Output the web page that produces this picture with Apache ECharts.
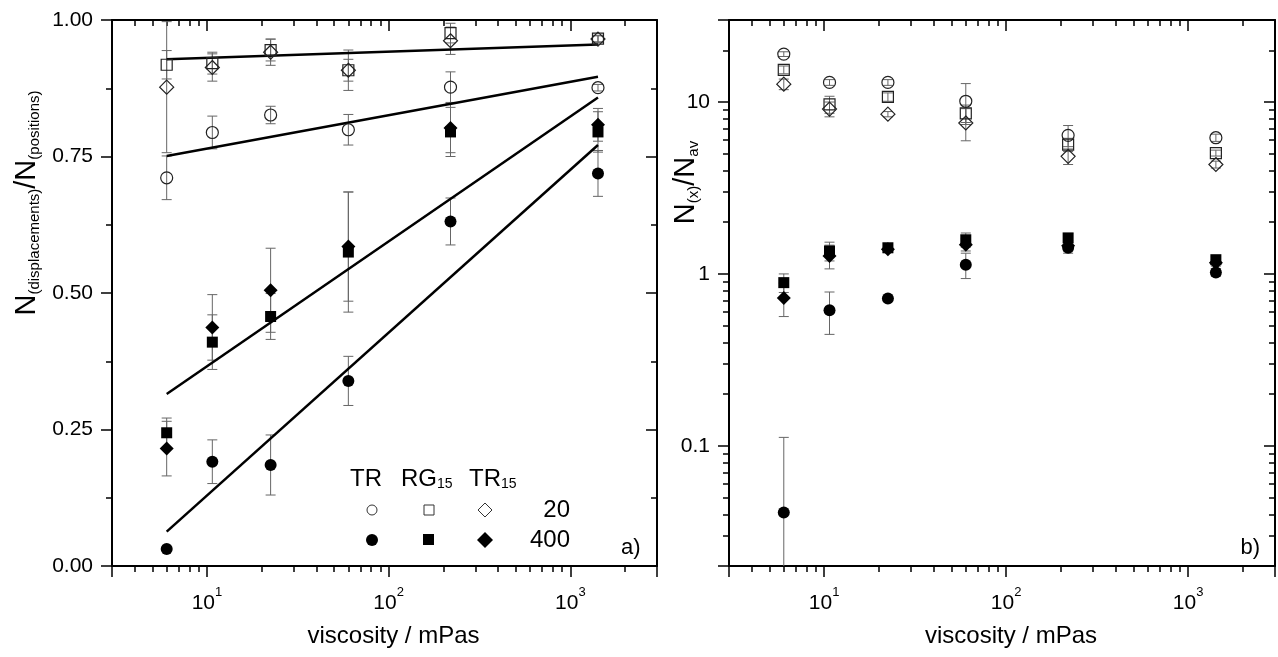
<!DOCTYPE html>
<html><head><meta charset="utf-8">
<script src="https://cdn.jsdelivr.net/npm/echarts@6/dist/echarts.min.js"></script>
<style>html,body{margin:0;padding:0;background:#fff}#c{width:1278px;height:657px}</style>
</head><body><div id="c"></div>
<script>
// ---- data ----
const viscosity = [6, 10.7, 22.4, 60, 219, 1420];

// panel a) N(displacements)/N(positions)
const aTR20 = [0.711, 0.794, 0.826, 0.799, 0.877, 0.876];
const aTR20Err = [0.04, 0.03, 0.016, 0.028, 0.028, 0.006];
const aRG20 = [0.918, 0.921, 0.945, 0.908, 0.976, 0.966];
const aRG20Err = [0.026, 0.02, 0.02, 0.02, 0.018, 0.006];
const aTR15_20 = [0.877, 0.913, 0.941, 0.908, 0.962, 0.965];
const aTR15_20Err = [0.12, 0.025, 0.024, 0.037, 0.025, 0.006];
const aTR400 = [0.031, 0.191, 0.185, 0.339, 0.631, 0.719];
const aTR400Err = [0, 0.04, 0.055, 0.045, 0.043, 0.042];
const aRG400 = [0.244, 0.41, 0.457, 0.575, 0.795, 0.795];
const aRG400Err = [0.027, 0.05, 0.042, 0.11, 0.045, 0.037];
const aTR15_400 = [0.215, 0.437, 0.505, 0.585, 0.802, 0.808];
const aTR15_400Err = [0.05, 0.06, 0.077, 0.1, 0.045, 0.03];

// linear fits (straight in log x), endpoints
const fitX = [6, 1420];
const fitOpen15 = [0.928, 0.955];
const fitTR20 = [0.751, 0.896];
const fitFilled15 = [0.315, 0.858];
const fitTR400 = [0.063, 0.771];

// panel b) N(x)/Nav
const bTR20 = [19.0, 13.0, 13.0, 10.1, 6.4, 6.2];
const bTR20Err = [0.6, 0.5, 0.5, 2.7, 0.9, 0.3];
const bRG20 = [15.4, 9.7, 10.7, 8.6, 5.65, 5.05];
const bRG20Err = [0.8, 1.1, 0.6, 1.0, 0.5, 0.2];
const bTR15_20 = [12.7, 9.1, 8.5, 7.55, 4.83, 4.33];
const bTR15_20Err = [0.9, 0.9, 0.3, 1.6, 0.5, 0.2];
const bTR400 = [0.041, 0.615, 0.72, 1.13, 1.42, 1.02];
const bTR400Err = [0.071, 0.17, 0.02, 0.19, 0.1, 0.05];
const bRG400 = [0.89, 1.36, 1.42, 1.58, 1.62, 1.21];
const bRG400Err = [0.11, 0.17, 0.08, 0.15, 0.1, 0.05];
const bTR15_400 = [0.725, 1.27, 1.39, 1.48, 1.46, 1.16];
const bTR15_400Err = [0.16, 0.2, 0.06, 0.12, 0.1, 0.05];

const xTickLabels = ['10{s|1}', '10{s|2}', '10{s|3}'];

// ---- helpers ----
const FONT = '"Liberation Sans", Arial, sans-serif';
const sizes = {circle: 12, rect: 11, diamond: 14};

function scatter(data, sym, filled, xi, yi) {
  return {
    type: 'scatter', xAxisIndex: xi, yAxisIndex: yi, symbol: sym, symbolSize: sizes[sym],
    data: viscosity.map((x, i) => [x, data[i]]),
    itemStyle: filled ? {color: '#000', opacity: 1}
                      : {color: 'rgba(255,255,255,0)', borderColor: '#222', borderWidth: 1.2, opacity: 1},
    z: 5, silent: true
  };
}
function errItem(params, api) {
  const x = api.value(0);
  const lo = api.coord([x, api.value(1)]);
  const hi = api.coord([x, api.value(2)]);
  const w = 5;
  const st = {stroke: '#666', lineWidth: 1};
  return {type: 'group', children: [
    {type: 'line', shape: {x1: lo[0], y1: lo[1], x2: hi[0], y2: hi[1]}, style: st},
    {type: 'line', shape: {x1: lo[0] - w, y1: lo[1], x2: lo[0] + w, y2: lo[1]}, style: st},
    {type: 'line', shape: {x1: hi[0] - w, y1: hi[1], x2: hi[0] + w, y2: hi[1]}, style: st}
  ]};
}
function errSeries(vals, errs, xi, yi, floor) {
  const data = [];
  viscosity.forEach((x, i) => {
    if (errs[i] > 0) data.push([x, Math.max(vals[i] - errs[i], floor), vals[i] + errs[i]]);
  });
  return {type: 'custom', xAxisIndex: xi, yAxisIndex: yi, renderItem: errItem, data,
          encode: {x: 0, y: [1, 2]}, clip: true, z: 2, silent: true};
}
function fit(vals, xi, yi) {
  return {type: 'line', xAxisIndex: xi, yAxisIndex: yi, data: fitX.map((x, i) => [x, vals[i]]),
          symbol: 'none', lineStyle: {color: '#000', width: 2.5}, z: 3, silent: true, animation: false};
}
function pow10Label(v) {
  const l = Math.log10(v), e = Math.round(l);
  if (Math.abs(l - e) > 1e-6 || e < 1 || e > 3) return '';
  return '{b|' + xTickLabels[e - 1].replace('{s|', '}{s|');
}
const lineStyle = {color: '#000', width: 2};
const tickStyle = {color: '#000', width: 1.5};

function logX(grid, pos) {
  const bottom = pos === 'bottom';
  return {
    type: 'log', logBase: 10, gridIndex: grid, position: pos, min: 3, max: 3000,
    axisLine: {show: true, onZero: false, lineStyle},
    axisTick: {show: true, inside: !bottom, length: 11, lineStyle: tickStyle},
    minorTick: {show: true, splitNumber: 9, length: 6, lineStyle: tickStyle},
    splitLine: {show: false}, minorSplitLine: {show: false},
    axisLabel: {show: bottom, margin: 20, color: '#000', formatter: pow10Label,
      rich: {b: {fontFamily: FONT, fontSize: 21, color: '#000', lineHeight: 28, verticalAlign: 'bottom'},
             s: {fontFamily: FONT, fontSize: 13, color: '#000', lineHeight: 13, verticalAlign: 'top'}}},
    name: bottom ? 'viscosity / mPas' : '', nameLocation: 'middle', nameGap: 58, nameMoveOverlap: false,
    nameTextStyle: {fontFamily: FONT, fontSize: 24, color: '#000', padding: [0, 0, 0, 18]}
  };
}

const titleRich = {
  n: {fontFamily: FONT, fontSize: 29, color: '#000', lineHeight: 30, verticalAlign: 'top'},
  s: {fontFamily: FONT, fontSize: 15, color: '#000', lineHeight: 15, verticalAlign: 'bottom', padding: [26, 0, 0, 0]}
};
const legendRich = {
  t: {fontFamily: FONT, fontSize: 24, lineHeight: 24, verticalAlign: 'top', fill: '#000'},
  s: {fontFamily: FONT, fontSize: 14, lineHeight: 14, verticalAlign: 'bottom', padding: [21, 0, 0, 0], fill: '#000'}
};

const option = {
  animation: false,
  backgroundColor: '#fff',
  textStyle: {fontFamily: FONT},
  grid: [
    {left: 111, right: 621, top: 20, bottom: 91, containLabel: false},
    {left: 729, right: 3, top: 20, bottom: 91, containLabel: false}
  ],
  xAxis: [logX(0, 'bottom'), logX(0, 'top'), logX(1, 'bottom'), logX(1, 'top')],
  yAxis: [
    {type: 'value', gridIndex: 0, position: 'left', min: 0, max: 1, interval: 0.25,
     axisLine: {show: true, onZero: false, lineStyle},
     axisTick: {show: true, inside: false, length: 11, lineStyle: tickStyle},
     minorTick: {show: true, splitNumber: 2, length: 6, lineStyle: tickStyle},
     splitLine: {show: false},
     axisLabel: {margin: 19, color: '#000', fontFamily: FONT, fontSize: 21, formatter: v => v.toFixed(2)},
     name: '{n|N}{s|(displacements)}{n|/N}{s|(positions)}', nameLocation: 'middle', nameRotate: 90, nameGap: 70,
     nameMoveOverlap: false,
     nameTextStyle: {rich: titleRich, padding: [0, 0, 0, 180]}},
    {type: 'value', gridIndex: 0, position: 'right', min: 0, max: 1, interval: 0.25,
     axisLine: {show: true, onZero: false, lineStyle},
     axisTick: {show: true, inside: true, length: 11, lineStyle: tickStyle},
     minorTick: {show: true, splitNumber: 2, length: 6, lineStyle: tickStyle},
     splitLine: {show: false}, axisLabel: {show: false}},
    {type: 'log', logBase: 10, gridIndex: 1, position: 'left', min: 0.02, max: 30,
     axisLine: {show: true, onZero: false, lineStyle},
     axisTick: {show: true, inside: false, length: 11, lineStyle: tickStyle},
     minorTick: {show: true, splitNumber: 9, length: 6, lineStyle: tickStyle},
     splitLine: {show: false}, minorSplitLine: {show: false},
     axisLabel: {margin: 19, color: '#000', fontFamily: FONT, fontSize: 21,
       formatter: v => { const l = Math.log10(v), e = Math.round(l); return Math.abs(l - e) < 1e-6 ? String(+v.toPrecision(3)) : ''; }},
     name: '{n|N}{s|(x)}{n|/N}{s|av}', nameLocation: 'middle', nameRotate: 90, nameGap: 28,
     nameMoveOverlap: false,
     nameTextStyle: {rich: titleRich, padding: [0, 0, 0, 221]}},
    {type: 'log', logBase: 10, gridIndex: 1, position: 'right', min: 0.02, max: 30,
     axisLine: {show: true, onZero: false, lineStyle},
     axisTick: {show: true, inside: true, length: 11, lineStyle: tickStyle},
     minorTick: {show: true, splitNumber: 9, length: 6, lineStyle: tickStyle},
     splitLine: {show: false}, minorSplitLine: {show: false}, axisLabel: {show: false}}
  ],
  series: [
    // panel a error bars
    errSeries(aTR20, aTR20Err, 0, 0, -1),
    errSeries(aRG20, aRG20Err, 0, 0, -1),
    errSeries(aTR15_20, aTR15_20Err, 0, 0, -1),
    errSeries(aTR400, aTR400Err, 0, 0, -1),
    errSeries(aRG400, aRG400Err, 0, 0, -1),
    errSeries(aTR15_400, aTR15_400Err, 0, 0, -1),
    // fits
    fit(fitOpen15, 0, 0), fit(fitTR20, 0, 0), fit(fitFilled15, 0, 0), fit(fitTR400, 0, 0),
    // markers a
    scatter(aTR20, 'circle', false, 0, 0),
    scatter(aRG20, 'rect', false, 0, 0),
    scatter(aTR15_20, 'diamond', false, 0, 0),
    scatter(aTR400, 'circle', true, 0, 0),
    scatter(aRG400, 'rect', true, 0, 0),
    scatter(aTR15_400, 'diamond', true, 0, 0),
    // panel b error bars
    errSeries(bTR20, bTR20Err, 2, 2, 0.001),
    errSeries(bRG20, bRG20Err, 2, 2, 0.001),
    errSeries(bTR15_20, bTR15_20Err, 2, 2, 0.001),
    errSeries(bTR400, bTR400Err, 2, 2, 0.001),
    errSeries(bRG400, bRG400Err, 2, 2, 0.001),
    errSeries(bTR15_400, bTR15_400Err, 2, 2, 0.001),
    // markers b
    scatter(bTR20, 'circle', false, 2, 2),
    scatter(bRG20, 'rect', false, 2, 2),
    scatter(bTR15_20, 'diamond', false, 2, 2),
    scatter(bTR400, 'circle', true, 2, 2),
    scatter(bRG400, 'rect', true, 2, 2),
    scatter(bTR15_400, 'diamond', true, 2, 2)
  ],
  graphic: [
    {type: 'text', x: 350, y: 479, style: {text: 'TR', fontFamily: FONT, fontSize: 24, fill: '#000', textVerticalAlign: 'middle'}},
    {type: 'text', x: 401, y: 479, style: {text: '{t|RG}{s|15}', fill: '#000', textVerticalAlign: 'middle', rich: legendRich}},
    {type: 'text', x: 469, y: 479, style: {text: '{t|TR}{s|15}', fill: '#000', textVerticalAlign: 'middle', rich: legendRich}},
    {type: 'circle', shape: {cx: 372, cy: 510, r: 5}, style: {fill: 'none', stroke: '#333', lineWidth: 1}},
    {type: 'rect', shape: {x: 424, y: 505, width: 10, height: 10}, style: {fill: 'none', stroke: '#333', lineWidth: 1}},
    {type: 'polygon', shape: {points: [[485, 503], [492, 510], [485, 517], [478, 510]]}, style: {fill: 'none', stroke: '#333', lineWidth: 1}},
    {type: 'text', x: 570, y: 510, style: {text: '20', fontFamily: FONT, fontSize: 24, fill: '#000', textAlign: 'right', textVerticalAlign: 'middle'}},
    {type: 'circle', shape: {cx: 372, cy: 540, r: 6}, style: {fill: '#000'}},
    {type: 'rect', shape: {x: 423, y: 534, width: 11, height: 11}, style: {fill: '#000'}},
    {type: 'polygon', shape: {points: [[485, 532], [493, 540], [485, 548], [477, 540]]}, style: {fill: '#000'}},
    {type: 'text', x: 570, y: 540, style: {text: '400', fontFamily: FONT, fontSize: 24, fill: '#000', textAlign: 'right', textVerticalAlign: 'middle'}},
    {type: 'text', x: 621, y: 548, style: {text: 'a)', fontFamily: FONT, fontSize: 22, fill: '#000', textVerticalAlign: 'middle'}},
    {type: 'text', x: 1260, y: 548, style: {text: 'b)', fontFamily: FONT, fontSize: 22, fill: '#000', textAlign: 'right', textVerticalAlign: 'middle'}}
  ]
};
const chart = echarts.init(document.getElementById('c'), null, {renderer: 'canvas'});
chart.setOption(option);
</script>
</body></html>
